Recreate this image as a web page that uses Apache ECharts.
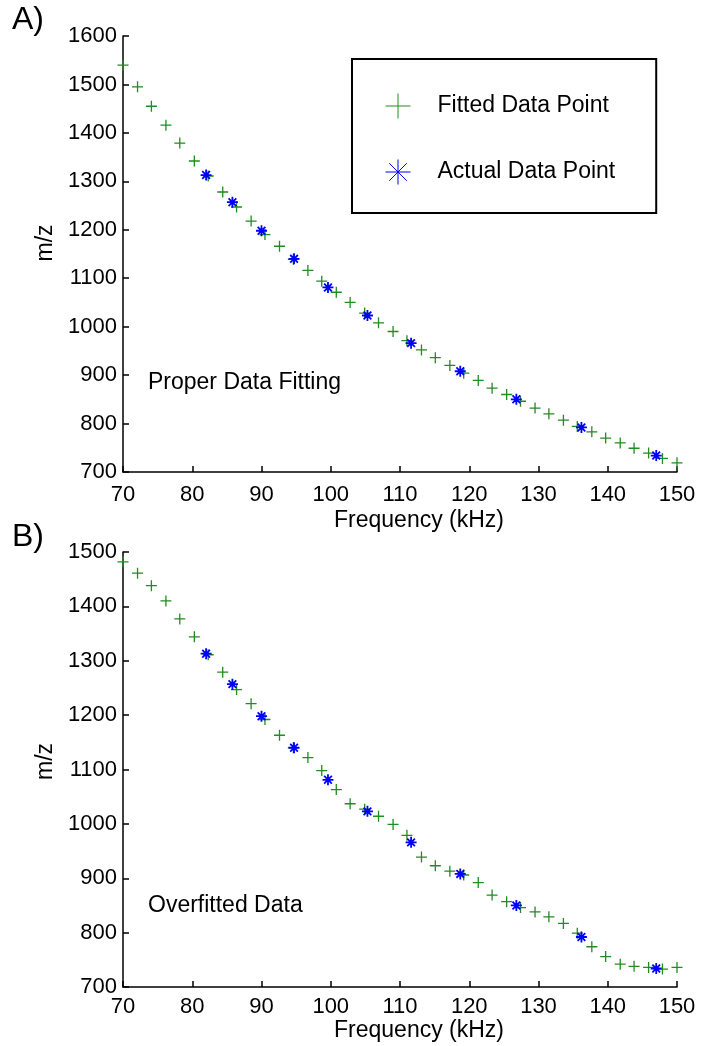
<!DOCTYPE html>
<html>
<head>
<meta charset="utf-8">
<script src="https://cdn.jsdelivr.net/npm/echarts/dist/echarts.min.js"></script>
<style>
html,body{margin:0;padding:0;background:#fff;}
#c{width:715px;height:1046px;}
</style>
</head>
<body>
<div id="c"></div>
<script>
// ---- data ----
var freqFit = [70.0, 72.1, 74.1, 76.2, 78.2, 80.3, 82.3, 84.4, 86.4, 88.5, 90.5, 92.6, 94.6, 96.7, 98.7, 100.8, 102.8, 104.9, 106.9, 109.0, 111.0, 113.1, 115.1, 117.2, 119.2, 121.3, 123.3, 125.4, 127.4, 129.5, 131.5, 133.6, 135.6, 137.7, 139.7, 141.8, 143.8, 145.9, 147.9, 150.0];
var mzFitA = [1540, 1495, 1455, 1416, 1379, 1342, 1311, 1278, 1247, 1218, 1190, 1166, 1139, 1116, 1094, 1071, 1050, 1028, 1008, 990, 971, 952, 936, 920, 904, 889, 873, 860, 846, 832, 820, 807, 794, 783, 770, 760, 749, 739, 728, 719];
var mzFitB = [1482, 1461, 1438, 1410, 1377, 1344, 1311, 1279, 1247, 1221, 1192, 1163, 1140, 1122, 1098, 1063, 1037, 1027, 1014, 999, 979, 939, 923, 913, 906, 892, 869, 857, 846, 838, 829, 817, 799, 774, 756, 742, 738, 736, 733, 736];
var freqActual = [82.0, 85.8, 90.0, 94.7, 99.6, 105.3, 111.6, 118.7, 126.8, 136.2, 147.0];
var mzActual = [1313, 1257, 1198, 1140, 1081, 1023, 966, 908, 850, 792, 734];
var xTicks = [70, 80, 90, 100, 110, 120, 130, 140, 150];
var yTicksA = [700, 800, 900, 1000, 1100, 1200, 1300, 1400, 1500, 1600];
var yTicksB = [700, 800, 900, 1000, 1100, 1200, 1300, 1400, 1500];

function pairs(xs, ys) { return xs.map(function (x, i) { return [x, ys[i]]; }); }
function plain(v) { return String(v); }

var FONT = "'Liberation Sans', Arial, Helvetica, sans-serif";
var GREEN = '#228b22';
var BLUE = '#0000ff';
var crossPath = 'path://M0,5.5L11,5.5M5.5,0L5.5,11';
var starPath = 'path://M0,5L10,5M5,0L5,10M1.5,1.5L8.5,8.5M1.5,8.5L8.5,1.5';

function xAxisCfg(grid, labelMargin, nameGap) {
  return {
    gridIndex: grid, type: 'value',
    min: xTicks[0], max: xTicks[xTicks.length - 1], interval: xTicks[1] - xTicks[0],
    axisLine: { onZero: false, lineStyle: { color: '#000', width: 1.5 } },
    axisTick: { inside: true, length: 6, lineStyle: { color: '#000', width: 1.5 } },
    axisLabel: { color: '#000', fontSize: 22, fontFamily: FONT, margin: labelMargin, formatter: plain },
    splitLine: { show: false },
    name: 'Frequency (kHz)', nameLocation: 'middle', nameGap: nameGap,
    nameTextStyle: { color: '#000', fontSize: 23, fontFamily: FONT, padding: [0, 0, 0, 38] }
  };
}
function yAxisCfg(grid, ticks, shift) {
  return {
    gridIndex: grid, type: 'value',
    min: ticks[0], max: ticks[ticks.length - 1], interval: ticks[1] - ticks[0],
    axisLine: { onZero: false, lineStyle: { color: '#000', width: 1.5 } },
    axisTick: { inside: true, length: 6, lineStyle: { color: '#000', width: 1.5 } },
    axisLabel: { color: '#000', fontSize: 22, fontFamily: FONT, margin: 6, formatter: plain },
    splitLine: { show: false },
    name: 'm/z', nameLocation: 'middle', nameGap: 62,
    nameTextStyle: { color: '#000', fontSize: 23, fontFamily: FONT, padding: [0, 0, 0, shift] }
  };
}
function fitSeries(xi, data) {
  return {
    type: 'scatter', name: 'Fitted Data Point', xAxisIndex: xi, yAxisIndex: xi,
    data: data, symbol: crossPath, symbolSize: 11, z: 2, silent: true,
    itemStyle: { color: 'rgba(0,0,0,0)', borderColor: GREEN, borderWidth: 1.3, opacity: 1 }
  };
}
function actSeries(xi, data) {
  return {
    type: 'scatter', name: 'Actual Data Point', xAxisIndex: xi, yAxisIndex: xi,
    data: data, symbol: starPath, symbolSize: 11, z: 3, silent: true,
    itemStyle: { color: 'rgba(0,0,0,0)', borderColor: BLUE, borderWidth: 1.8, opacity: 1 }
  };
}

var chart = echarts.init(document.getElementById('c'), null, { renderer: 'canvas' });
chart.setOption({
  backgroundColor: '#fff',
  animation: false,
  grid: [
    { left: 123, top: 36, width: 554, height: 436 },
    { left: 123, top: 552, width: 554, height: 435 }
  ],
  xAxis: [xAxisCfg(0, 12, 37), xAxisCfg(1, 9, 31)],
  yAxis: [yAxisCfg(0, yTicksA, 22), yAxisCfg(1, yTicksB, 16)],
  legend: {
    orient: 'vertical', left: 352, top: 59,
    selectedMode: false,
    backgroundColor: '#fff',
    borderColor: '#000', borderWidth: 2, borderRadius: 0,
    padding: [34, 41, 28, 33],
    itemWidth: 25, itemHeight: 25, itemGap: 40,
    itemStyle: { borderWidth: 1 },
    textStyle: { color: '#000', fontSize: 23, fontFamily: FONT, padding: [0, 0, 0, 22] },
    data: [
      { name: 'Fitted Data Point', icon: crossPath },
      { name: 'Actual Data Point', icon: starPath }
    ]
  },
  graphic: [
    { type: 'text', left: 12, top: 4, style: { text: 'A)', fontSize: 32, fontFamily: FONT, fill: '#000' } },
    { type: 'text', left: 12, top: 521, style: { text: 'B)', fontSize: 32, fontFamily: FONT, fill: '#000' } },
    { type: 'text', left: 148, top: 371, style: { text: 'Proper Data Fitting', fontSize: 23, fontFamily: FONT, fill: '#000' } },
    { type: 'text', left: 148, top: 894, style: { text: 'Overfitted Data', fontSize: 23, fontFamily: FONT, fill: '#000' } }
  ],
  series: [
    fitSeries(0, pairs(freqFit, mzFitA)),
    actSeries(0, pairs(freqActual, mzActual)),
    fitSeries(1, pairs(freqFit, mzFitB)),
    actSeries(1, pairs(freqActual, mzActual))
  ]
});
</script>
</body>
</html>
